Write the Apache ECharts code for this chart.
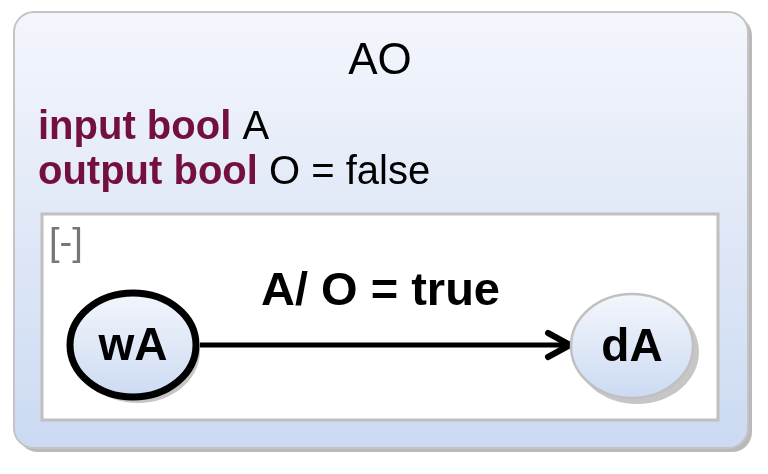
<!DOCTYPE html>
<html><head><meta charset="utf-8">
<script src="https://cdn.jsdelivr.net/npm/echarts@6/dist/echarts.min.js"></script>
<style>html,body{margin:0;background:#fff}#c{width:768px;height:474px}</style>
</head><body><div id="c"></div>
<script>
// statechart content
const regionName = 'AO';
const declarations = [['input bool', ' A'], ['output bool', ' O = false']];
const states = [
  { name: 'wA', cx: 133, cy: 345, initial: true },
  { name: 'dA', cx: 632, cy: 346, initial: false }
];
const transitions = [{ from: 0, to: 1, label: 'A/ O = true' }];

const font = '"Liberation Sans", Arial, sans-serif';
const kw = '#74103f';
const g = [];

// outer region box
g.push({ type: 'rect', shape: { x: 18, y: 16, width: 734, height: 436, r: 20 }, style: { fill: '#b9b9b9' }, z: 1 });
g.push({ type: 'rect', shape: { x: 14, y: 12, width: 734, height: 436, r: 20 }, z: 2,
  style: { fill: new echarts.graphic.LinearGradient(0, 0, 0, 1, [{ offset: 0, color: '#f4f6fc' }, { offset: 1, color: '#cbdaf2' }]), stroke: '#c4c4c4', lineWidth: 2 } });
g.push({ type: 'text', x: 380, y: 62, z: 3, style: { text: regionName, fontFamily: font, fontSize: 44, fill: '#000', align: 'center', verticalAlign: 'middle' } });
declarations.forEach((d, i) => {
  g.push({ type: 'text', x: 38, y: 128 + i * 45, z: 3, style: { rich: { k: { fontFamily: font, fontWeight: 'bold', fontSize: 40, fill: kw }, v: { fontFamily: font, fontSize: 40, fill: '#000' } },
    text: '{k|' + d[0] + '}{v|' + d[1] + '}', verticalAlign: 'middle' } });
});

// inner region
g.push({ type: 'rect', shape: { x: 42, y: 214, width: 676, height: 206 }, z: 3, style: { fill: '#fff', stroke: '#c0c0c0', lineWidth: 3 } });
g.push({ type: 'text', x: 49, y: 245, z: 4, style: { text: '[-]', fontFamily: font, fontSize: 38, fill: '#777', verticalAlign: 'middle' } });

// transitions
transitions.forEach(t => {
  const a = states[t.from], b = states[t.to];
  const x1 = a.cx + 67, x2 = b.cx - 60;
  g.push({ type: 'line', z: 5, shape: { x1: x1, y1: a.cy, x2: x2 - 4, y2: a.cy }, style: { stroke: '#000', lineWidth: 5 } });
  g.push({ type: 'polyline', z: 5, shape: { points: [[x2 - 24, a.cy - 12], [x2 - 2, a.cy], [x2 - 24, a.cy + 12]] }, style: { stroke: '#000', lineWidth: 6, fill: null, lineJoin: 'round', lineCap: 'round' } });
  g.push({ type: 'text', x: (a.cx + b.cx) / 2 - 2, y: 292, z: 5, style: { text: t.label, fontFamily: font, fontWeight: 'bold', fontSize: 47, fill: '#000', align: 'center', verticalAlign: 'middle' } });
});

// states
states.forEach(s => {
  g.push({ type: 'ellipse', z: 4, shape: { cx: s.cx + 5, cy: s.cy + 6, rx: 62, ry: 52 }, style: { fill: '#c6c6c6' } });
  g.push({ type: 'ellipse', z: 5, shape: { cx: s.cx, cy: s.cy, rx: s.initial ? 63 : 61, ry: 52 },
    style: { fill: new echarts.graphic.LinearGradient(0, 0, 0, 1, [{ offset: 0, color: '#f4f6fc' }, { offset: 1, color: '#cbdaf2' }]),
      stroke: s.initial ? '#000' : '#c0c0c0', lineWidth: s.initial ? 7 : 2.5 } });
  g.push({ type: 'text', x: s.cx, y: s.cy + 2, z: 6, style: { text: s.name, fontFamily: font, fontWeight: 'bold', fontSize: 46, fill: '#000', align: 'center', verticalAlign: 'middle' } });
});

const chart = echarts.init(document.getElementById('c'));
chart.setOption({ animation: false, graphic: { elements: g } });
</script></body></html>
